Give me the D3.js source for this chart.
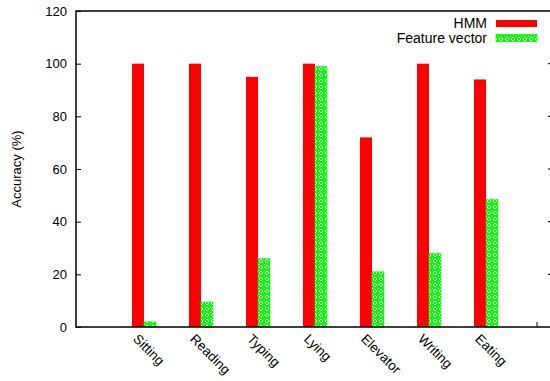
<!DOCTYPE html>
<html><head><meta charset="utf-8">
<script src="https://cdn.jsdelivr.net/npm/d3@7"></script>
<style>body{margin:0;background:#fff}svg{display:block;font-family:"Liberation Sans",Arial,sans-serif}</style>
</head><body><svg id="c" width="550" height="381"></svg>
<script>
const categories = ["Sitting","Reading","Typing","Lying","Elevator","Writing","Eating"];
const hmm = [100,100,95,100,72,100,94];
const featureVector = [2,9.5,26,99,21,28,48.5];
const yTicks = [0,20,40,60,80,100,120];
const seriesNames = ["HMM","Feature vector"];

const svg = d3.select("#c");
const L = 76, T = 11, B = 327, R = 556;
const y = d3.scaleLinear().domain([0,120]).range([B,T]);
const x = d3.scaleBand().domain(categories).range([115.5,514.5]).padding(0);
const bw = 12;

const defs = svg.append("defs");
const pat = defs.append("pattern").attr("id","fv").attr("patternUnits","userSpaceOnUse")
  .attr("width",6).attr("height",6);
pat.append("rect").attr("width",6).attr("height",6).attr("fill","#00ff00");
pat.append("rect").attr("x",2).attr("y",1).attr("width",2).attr("height",1).attr("fill","#fff");
pat.append("rect").attr("x",1).attr("y",2).attr("width",1).attr("height",2).attr("fill","#fff");
pat.append("rect").attr("x",4).attr("y",2).attr("width",1).attr("height",2).attr("fill","#fff");
pat.append("rect").attr("x",2).attr("y",4).attr("width",2).attr("height",1).attr("fill","#fff");
pat.append("rect").attr("x",0).attr("y",0).attr("width",1).attr("height",1).attr("fill","#fff");

// bars
svg.append("g").selectAll("rect").data(categories).join("rect")
  .attr("x",d=>x(d)+x.bandwidth()/2-bw).attr("width",bw)
  .attr("y",(d,i)=>y(hmm[i])).attr("height",(d,i)=>B-y(hmm[i]))
  .attr("fill","#ff0000");
svg.append("g").selectAll("rect").data(categories).join("rect")
  .attr("x",d=>x(d)+x.bandwidth()/2).attr("width",bw)
  .attr("y",(d,i)=>y(featureVector[i])).attr("height",(d,i)=>B-y(featureVector[i]))
  .attr("fill","url(#fv)").attr("stroke","#00ff00").attr("stroke-width",0.8).attr("stroke-dasharray","2,1");

// frame
const fr = svg.append("g").attr("stroke","#000").attr("stroke-width",1.5).attr("fill","none");
fr.append("path").attr("d",`M${R},${T}H${L}V${B}H${R}`);

// y axis
const yAxis = d3.axisLeft(y).tickValues(yTicks).tickSize(-5).tickPadding(9);
const ya = svg.append("g").attr("transform",`translate(${L},0)`).call(yAxis);
ya.select(".domain").remove();
ya.selectAll("line").attr("stroke","#000").attr("stroke-width",1);
ya.selectAll("text").attr("font-size",13).attr("fill","#000").attr("font-family","Liberation Sans, Arial, sans-serif");
// mirror ticks on right
svg.append("g").selectAll("line").data(yTicks.slice(1,6)).join("line")
  .attr("x1",548).attr("x2",556).attr("y1",d=>y(d)).attr("y2",d=>y(d)).attr("stroke","#000");
// bottom tick
svg.append("line").attr("x1",537).attr("x2",537).attr("y1",B).attr("y2",B-5).attr("stroke","#000");

// x labels
svg.append("g").selectAll("text").data(categories).join("text")
  .attr("transform",d=>`translate(${x(d)+x.bandwidth()/2-5},${B+6}) rotate(45)`)
  .attr("dy","0.7em").attr("font-size",13.5).attr("fill","#000").text(d=>d);

// y title
svg.append("text").attr("transform",`translate(21,${(T+B)/2}) rotate(-90)`)
  .attr("text-anchor","middle").attr("font-size",13).text("Accuracy (%)");

// legend
const lg = svg.append("g");
const ly = [23.5, 38];
lg.selectAll("text").data(seriesNames).join("text")
  .attr("x",487).attr("y",(d,i)=>ly[i]).attr("dy","0.35em").attr("text-anchor","end")
  .attr("font-size",14).text(d=>d);
lg.selectAll("rect").data(seriesNames).join("rect")
  .attr("x",496).attr("width",41).attr("y",(d,i)=>ly[i]-3.5).attr("height",7)
  .attr("fill",(d,i)=>i===0?"#ff0000":"url(#fv)").attr("stroke",(d,i)=>i===0?"none":"#00ff00").attr("stroke-width",0.8);
</script></body></html>
